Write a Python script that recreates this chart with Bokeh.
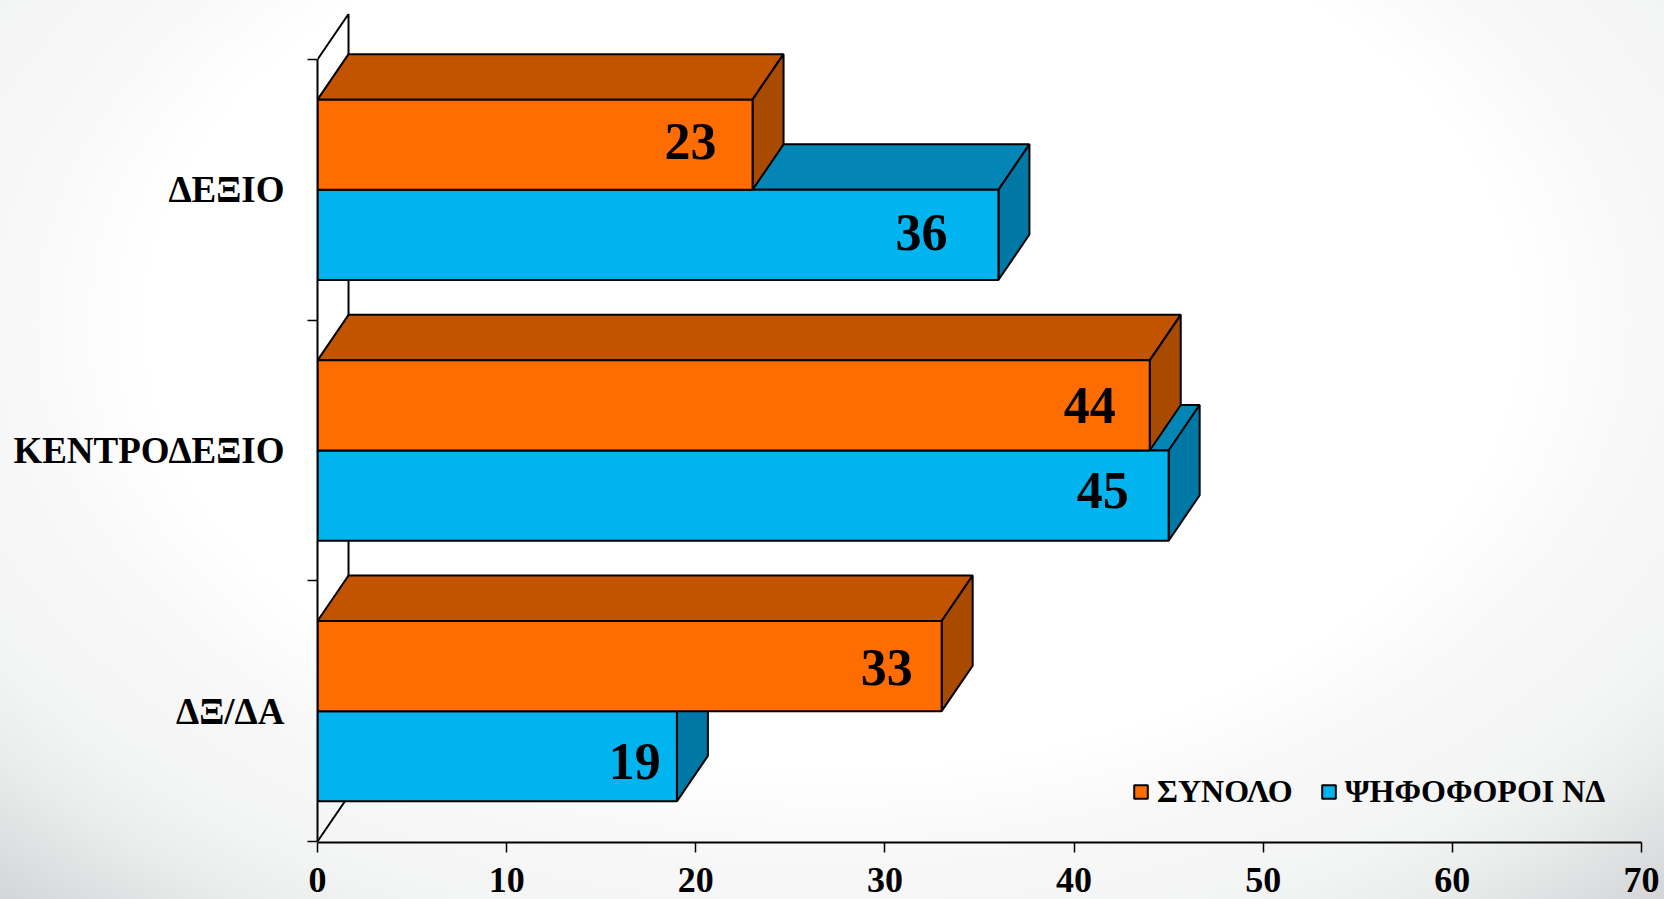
from bokeh.plotting import figure
from bokeh.models import ColumnDataSource, Legend, LegendItem, FixedTicker, Range1d
from bokeh.core.properties import value
from bokeh.embed import file_html
from bokeh.resources import INLINE

# ---- data (bottom to top) ----
categories = ["ΔΞ/ΔΑ", "ΚΕΝΤΡΟΔΕΞΙΟ", "ΔΕΞΙΟ"]
synolo = [33, 44, 23]
psifoforoi = [19, 45, 36]
series_names = ["ΣΥΝΟΛΟ", "ΨΗΦΟΦΟΡΟΙ ΝΔ"]
x_ticks = [0, 10, 20, 30, 40, 50, 60, 70]

# ---- hand-placed value label offsets, in pixels ----
synolo_dx = [-55, -60, -62]
synolo_dy = [1, 0, -3]
psifo_dx = [-42, -66, -77]
psifo_dy = [5, -5, -2]

# ---- geometry in axis units ----
BAR = 0.346
DX = 1.64
DY = 0.1745
FONT = value("Liberation Serif")

p = figure(width=1664, height=899, output_backend="svg", toolbar_location=None,
           x_range=Range1d(0, 70), y_range=Range1d(-0.0038, 3.1765),
           min_border_left=317, min_border_right=23, min_border_top=13, min_border_bottom=57,
           background_fill_color=None, border_fill_color=None, outline_line_color=None)
p.styles = {
    "background": "radial-gradient(ellipse 75% 90% at 50% 36%, #ffffff 55%, #f8f8f8 65%, "
                  "#f3f4f4 78%, #ebecec 85%, #d3d4d6 98%)",
}
p.grid.visible = False

# side wall of the 3D box
p.line([0, DX, DX, 0], [0, DY, 3 + DY, 3], line_color="black", line_width=2)


def draw_series(vals, sign, front, top, side):
    ys = [i + 0.5 + sign * BAR / 2 for i in range(len(vals))]
    ys_top = [y + BAR / 2 for y in ys]
    ys_bot = [y - BAR / 2 for y in ys]
    p.patches([[0, v, v + DX, DX] for v in vals],
              [[t, t, t + DY, t + DY] for t in ys_top],
              fill_color=top, line_color="black", line_width=2)
    p.patches([[v, v + DX, v + DX, v] for v in vals],
              [[b, b + DY, t + DY, t] for b, t in zip(ys_bot, ys_top)],
              fill_color=side, line_color="black", line_width=2)
    return p.hbar(y=ys, left=0, right=vals, height=BAR,
                  fill_color=front, line_color="black", line_width=2)


r_blue = draw_series(psifoforoi, -1, "#00b4f0", "#0385b6", "#0078a6")
r_orange = draw_series(synolo, 1, "#ff6d00", "#c25400", "#a84a00")


def value_labels(vals, sign, dxs, dys):
    src = ColumnDataSource(dict(
        x=vals, y=[i + 0.5 + sign * BAR / 2 for i in range(len(vals))],
        t=[str(v) for v in vals], dx=dxs, dy=dys))
    p.text("x", "y", text="t", x_offset="dx", y_offset="dy", source=src,
           text_font=FONT, text_font_style="bold", text_font_size="52px",
           text_color="black", text_align="center", text_baseline="middle")


value_labels(psifoforoi, -1, psifo_dx, psifo_dy)
value_labels(synolo, 1, synolo_dx, synolo_dy)

# axes
xa = p.xaxis[0]
xa.ticker = FixedTicker(ticks=x_ticks)
xa.axis_line_color = "black"
xa.axis_line_width = 2
xa.major_tick_line_color = "black"
xa.major_tick_line_width = 1.5
xa.major_tick_in = 0
xa.major_tick_out = 10
xa.minor_tick_line_color = None
xa.major_label_standoff = 15
xa.major_label_text_font = "Liberation Serif"
xa.major_label_text_font_style = "bold"
xa.major_label_text_font_size = "36px"
xa.major_label_text_color = "black"

ya = p.yaxis[0]
ya.bounds = (0, 3)
ya.ticker = FixedTicker(ticks=[i + 0.5 for i in range(len(categories))],
                        minor_ticks=list(range(len(categories) + 1)))
ya.major_label_overrides = {i + 0.5: c for i, c in enumerate(categories)}
ya.axis_line_color = "black"
ya.axis_line_width = 2
ya.major_tick_line_color = None
ya.major_tick_in = 0
ya.major_tick_out = 0
ya.minor_tick_line_color = "black"
ya.minor_tick_line_width = 1.5
ya.minor_tick_in = 0
ya.minor_tick_out = 10
ya.major_label_standoff = 23
ya.major_label_text_font = "Liberation Serif"
ya.major_label_text_font_style = "bold"
ya.major_label_text_font_size = "37px"
ya.major_label_text_color = "black"

# legend
legend = Legend(items=[LegendItem(label=series_names[0], renderers=[r_orange]),
                       LegendItem(label=series_names[1], renderers=[r_blue])],
                orientation="horizontal", location=(815, 32),
                glyph_width=17, glyph_height=17, label_standoff=8, spacing=27,
                padding=0, margin=0, border_line_color=None, background_fill_alpha=0,
                label_text_font="Liberation Serif", label_text_font_style="bold",
                label_text_font_size="32px", label_text_color="black")
p.add_layout(legend)

open("out.html", "w").write(file_html(p, INLINE))
